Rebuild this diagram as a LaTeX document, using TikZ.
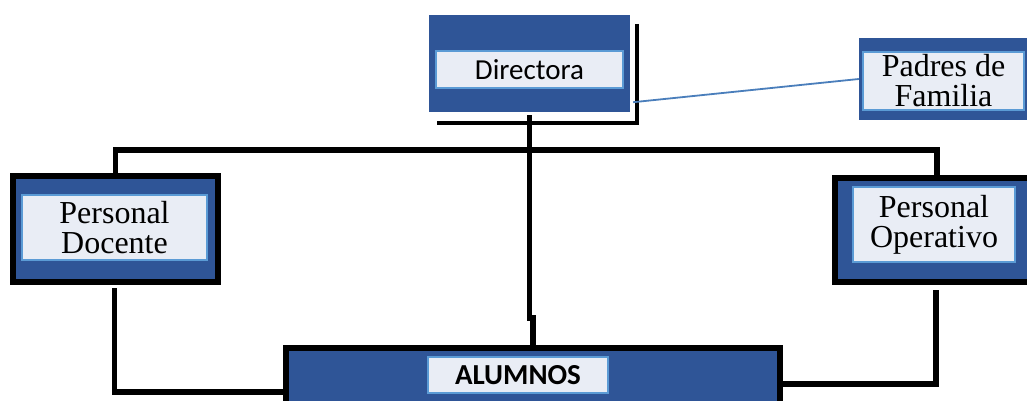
\documentclass[tikz,border=0pt]{standalone}
\usepackage{fontspec}
\setmainfont{Liberation Serif}
\newfontfamily\calfont{Carlito}
\usepackage{xcolor}
\usepackage{tikz}
\usetikzlibrary{calc}

\definecolor{boxBlue}{HTML}{2F5597}
\definecolor{innerFill}{HTML}{E9EDF5}
\definecolor{innerLine}{HTML}{5B9BD5}
\definecolor{famBlue}{HTML}{4A7EBB}

\begin{document}
\begin{tikzpicture}[x = 1pt, y = -1pt,
		outerBox/.style = {rectangle, fill = boxBlue, inner sep = 0pt},
		blackBox/.style = {outerBox, draw = black, line width = 6pt},
		innerBox/.style = {rectangle, fill = innerFill, draw = innerLine, line width = 2pt, inner sep = 0pt, align = center},
		serifText/.style = {font = \fontsize{32}{30}\selectfont},
		calText/.style = {font = \calfont\fontsize{29}{30}\selectfont},
		trunk/.style = {line width = 5.5pt, black},
		famLine/.style = {line width = 1.8pt, famBlue}]

					\useasboundingbox (0,0) rectangle (1027,401);
					\clip (0,0) rectangle (1027,401);

					\begin{scope}
						\node [outerBox, minimum width = 201, minimum height = 97] (dirBox) at (529.5,63.5) {};
						\node [innerBox, calText, minimum width = 187, minimum height = 37] (dir) at (529.5,69.5) {Directora};

						\node [outerBox, minimum width = 171, minimum height = 82] (padBox) at (944.5,79) {};
						\node [innerBox, serifText, minimum width = 161, minimum height = 58] (pad) at (943.5,81) {Padres de\\Familia};
					\end{scope}

					\begin{scope}
						\node [blackBox, minimum width = 205, minimum height = 106] (docBox) at (115.5,229) {};
						\node [innerBox, serifText, minimum width = 185, minimum height = 65] (doc) at (114.5,227.5) {Personal\\Docente};

						\node [blackBox, minimum width = 204, minimum height = 104] (opBox) at (937,230) {};
						\node [innerBox, serifText, minimum width = 162, minimum height = 75] (op) at (934,224.5) {Personal\\Operativo};

						\node [blackBox, minimum width = 494, minimum height = 72] (aluBox) at (533,384) {};
						\node [innerBox, calText, minimum width = 180, minimum height = 36] (alu) at (518,375) {\bfseries ALUMNOS};
					\end{scope}

					\begin{scope}[trunk]
						\coordinate (bar) at (529,150);
						\draw [line width = 4pt] ($(dirBox.north east)+(7,9)$) |- ($(dirBox.south west)+(8,11)$);
						\draw (dirBox.south) ++(0,3) -- (529.5,318) -- (533,318) -- (aluBox.north);
						\draw (docBox.north) |- (bar) -| (opBox.north);
						\draw (docBox.south) ++(-1,3) |- ([yshift = -8pt]aluBox.west);
						\draw (opBox.south) ++(-1,5) |- (aluBox.east);
					\end{scope}

					\draw [famLine] ($(dirBox.south east)+(3,-10)$) -- (padBox.west);
				\end{tikzpicture}
\end{document}
